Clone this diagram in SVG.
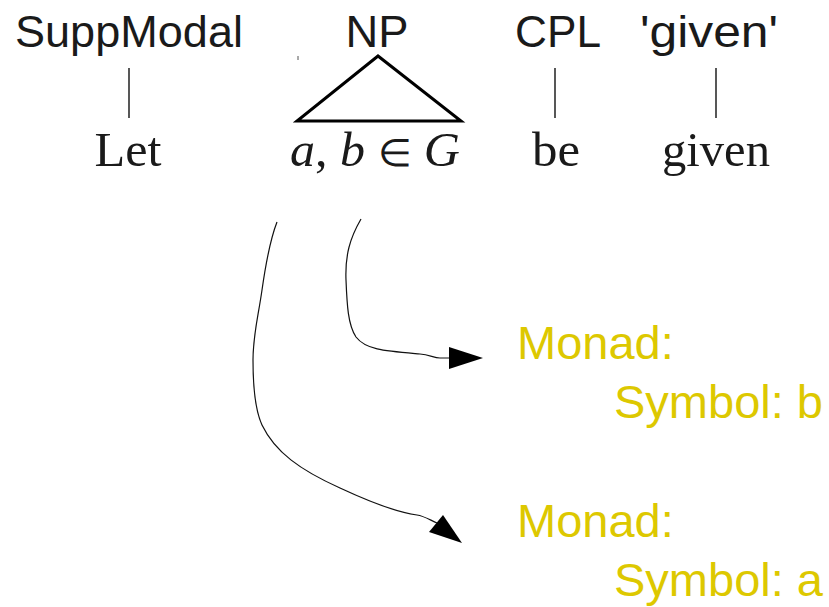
<svg xmlns="http://www.w3.org/2000/svg" width="829" height="607" viewBox="0 0 829 607">
  <style>
    .cat { font-family: "Liberation Sans", Arial, sans-serif; font-size: 45px; fill: #1a1a1a; text-anchor: middle; }
    .word { font-family: "Liberation Serif", "Times New Roman", serif; font-size: 49px; fill: #1a1a1a; text-anchor: middle; }
    .it { font-style: italic; }
    .elem { font-family: "DejaVu Sans", sans-serif; font-size: 38px; font-weight: 300; }
    .mon { font-family: "Liberation Sans", Arial, sans-serif; font-size: 47px; fill: #ddc800; }
    .branch { stroke: #111; stroke-width: 1.4; fill: none; }
    .tri { stroke: #000; stroke-width: 3; fill: none; stroke-linejoin: miter; }
    .link { stroke: #111; stroke-width: 1.2; fill: none; }
    .head { fill: #000; }
  </style>

  <!-- tree: category labels, branches and leaf words -->
  <g id="suppmodal">
    <text class="cat" x="129" y="47" textLength="228" lengthAdjust="spacingAndGlyphs">SuppModal</text>
    <line class="branch" x1="129" y1="68" x2="129" y2="118"/>
    <text class="word" x="128" y="166" textLength="67" lengthAdjust="spacingAndGlyphs">Let</text>
  </g>

  <g id="np">
    <text class="cat" x="377" y="47" textLength="63" lengthAdjust="spacingAndGlyphs">NP</text>
    <polygon class="tri" points="378,56 297,121 461,121"/>
    <line x1="298" y1="56" x2="298" y2="60" stroke="#555" stroke-width="1"/>
    <text class="word" x="375" y="166" textLength="170" lengthAdjust="spacingAndGlyphs"><tspan class="it">a</tspan>, <tspan class="it">b</tspan> <tspan class="elem">∈</tspan> <tspan class="it">G</tspan></text>
  </g>

  <g id="cpl">
    <text class="cat" x="558" y="47" textLength="86" lengthAdjust="spacingAndGlyphs">CPL</text>
    <line class="branch" x1="555" y1="68" x2="555" y2="118"/>
    <text class="word" x="556" y="166" textLength="48" lengthAdjust="spacingAndGlyphs">be</text>
  </g>

  <g id="given">
    <text class="cat" x="709" y="47" textLength="138" lengthAdjust="spacingAndGlyphs">'given'</text>
    <line class="branch" x1="716" y1="68" x2="716" y2="118"/>
    <text class="word" x="716" y="166" textLength="108" lengthAdjust="spacingAndGlyphs">given</text>
  </g>

  <!-- semantic annotations -->
  <g id="monad-b">
    <text class="mon" x="517" y="359">Monad:</text>
    <text class="mon" x="614" y="418">Symbol: b</text>
  </g>

  <g id="monad-a">
    <text class="mon" x="517" y="537">Monad:</text>
    <text class="mon" x="614" y="596">Symbol: a</text>
  </g>

  <!-- connectors from the NP leaves to their annotations -->
  <g id="connectors">
    <path class="link" d="M361,219 C350,238 345,255 346,280 C347,305 348,325 356,337 C366,350 385,351 420,354 C430,355 434,358 440,358 L450,358"/>
    <polygon class="head" points="483,358 449,347 449,369"/>
    <path class="link" d="M277,222 C270,240 266,262 262,290 C258,318 253,335 253,360 C253,390 255,410 262,425 C275,452 300,470 340,488 C370,502 395,512 417,515 C424,516 430,520 437,523"/>
    <polygon class="head" points="462,543 429,532 443,515"/>
  </g>
</svg>
